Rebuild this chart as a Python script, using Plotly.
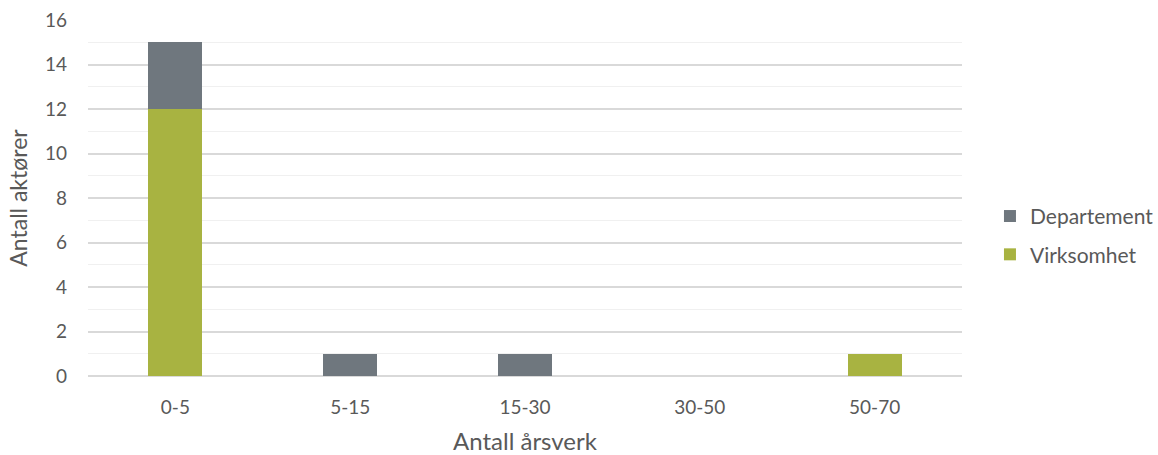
import plotly.graph_objects as go

categories = ["0-5", "5-15", "15-30", "30-50", "50-70"]
virksomhet = [12, 0, 0, 0, 1]
departement = [3, 1, 1, 0, 0]

GREEN = "#a8b341"
GRAY = "#6f777e"
FONT = "Lato, 'Open Sans', sans-serif"
TEXT = "#595959"

fig = go.Figure()
fig.add_trace(go.Bar(x=categories, y=virksomhet, name="Virksomhet",
                     legendgroup="v", legendrank=2,
                     marker=dict(color=GREEN, line=dict(width=0))))
fig.add_trace(go.Bar(x=categories, y=departement, name="Departement",
                     legendgroup="d", legendrank=1,
                     marker=dict(color=GRAY, line=dict(width=0))))

fig.update_layout(
    width=1158, height=455,
    barmode="stack", bargap=0.69,
    plot_bgcolor="white", paper_bgcolor="white",
    margin=dict(l=88, r=196, t=20, b=79, autoexpand=False),
    font=dict(family=FONT, size=19, color=TEXT),
    legend=dict(x=1.032, y=0.395, xanchor="left", yanchor="middle",
                traceorder="grouped", tracegroupgap=8,
                font=dict(size=21, color=TEXT), itemwidth=30),
    xaxis=dict(showgrid=False, showline=False, ticks="", ticklabelstandoff=18,
               tickfont=dict(size=19),
               title=dict(text="Antall årsverk", standoff=30,
                          font=dict(size=24, color=TEXT))),
    yaxis=dict(range=[0, 16], dtick=2, showgrid=True, gridcolor="#d9d9d9",
               gridwidth=1.5, zeroline=True, zerolinecolor="#d9d9d9",
               zerolinewidth=1.5, ticks="", ticklabelstandoff=20,
               tickfont=dict(size=19),
               minor=dict(dtick=1, showgrid=True, gridcolor="#f0f0f0", gridwidth=1),
               title=dict(text="Antall aktører", standoff=10,
                          font=dict(size=23, color=TEXT))),
)

fig.write_html("out.html")
